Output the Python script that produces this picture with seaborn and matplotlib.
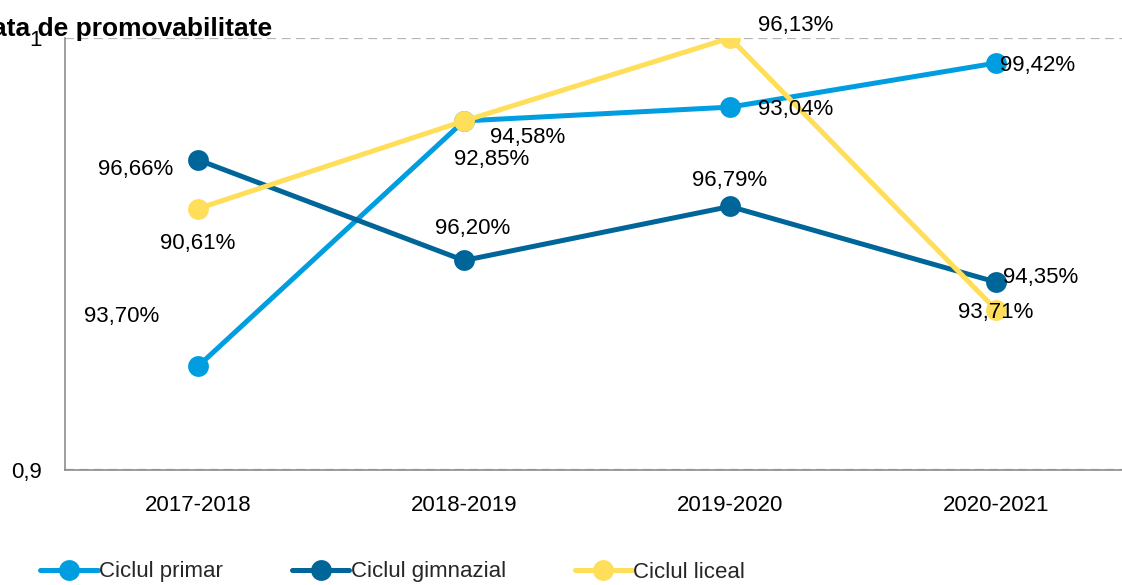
import numpy as np
import pandas as pd
import matplotlib
matplotlib.use("Agg")
import matplotlib.pyplot as plt
import seaborn as sns

# data
years = ["2017-2018", "2018-2019", "2019-2020", "2020-2021"]
series_names = ["Ciclul primar", "Ciclul gimnazial", "Ciclul liceal"]
primar = [0.9240, 0.9808, 0.9840, 0.9942]
gimnazial = [0.9718, 0.9485, 0.9610, 0.9435]
liceal = [0.9605, 0.9808, 1.0000, 0.9371]
primar_labels = ["93,70%", "94,58%", "93,04%", "99,42%"]
gimnazial_labels = ["96,66%", "96,20%", "96,79%", "94,35%"]
liceal_labels = ["90,61%", "92,85%", "96,13%", "93,71%"]
colors = ["#009EE0", "#006699", "#FFDE59"]

sns.set_theme(style="white")
plt.rcParams["font.family"] = ["Liberation Sans", "DejaVu Sans"]

df = pd.DataFrame({
    "an": years * 3,
    "rata": primar + gimnazial + liceal,
    "ciclu": np.repeat(series_names, len(years)),
})
df["x"] = np.tile(np.arange(len(years)), 3)

fig = plt.figure(figsize=(11.22, 5.85), dpi=100)
ax = fig.add_axes([65 / 1122, 1 - 470 / 585, 1064 / 1122, 432 / 585])

sns.lineplot(data=df, x="x", y="rata", hue="ciclu", hue_order=series_names,
             palette=colors, marker="o", markersize=15, markeredgewidth=0,
             linewidth=3.6, sort=False, ax=ax, legend=False)

ax.set_xlim(-0.5, len(years) - 0.5)
ax.set_ylim(0.9, 1.0)
ax.set_xticks(range(len(years)))
ax.set_xticklabels(years)
ax.set_xticks(np.arange(-0.5, len(years), 1.0), minor=True)
ax.tick_params(axis="x", which="major", length=0, pad=18, labelsize=16, labelcolor="black")
ax.tick_params(axis="x", which="minor", length=6, width=1.2, color="#8c8c8c", direction="out")
ax.set_yticks([0.9, 1.0])
ax.set_yticklabels(["0,9", "1"])
ax.tick_params(axis="y", length=0, pad=17, labelsize=16, labelcolor="black")
ax.set_xlabel("")
ax.set_ylabel("")

ax.yaxis.grid(True, linestyle=(0, (4, 2.5)), color="#b5b5b5", linewidth=1.6)
ax.set_axisbelow(True)
for side in ["top", "right"]:
    ax.spines[side].set_visible(False)
for side in ["left", "bottom"]:
    ax.spines[side].set_color("#8c8c8c")
    ax.spines[side].set_linewidth(1.2)
ax.patch.set_alpha(0)

# label offsets (points) around each marker
offsets = {
    "Ciclul primar": [(-55, 36), (46, -12), (47, -2), (30, -2)],
    "Ciclul gimnazial": [(-45, -7), (6, 23), (0, 19), (32, 3)],
    "Ciclul liceal": [(0, -25), (20, -28), (47, 9), (0, -2)],
}
for name, vals, labs in zip(series_names,
                            [primar, gimnazial, liceal],
                            [primar_labels, gimnazial_labels, liceal_labels]):
    for i, (v, lab) in enumerate(zip(vals, labs)):
        ax.annotate(lab, (i, v), xytext=offsets[name][i], textcoords="offset points",
                    ha="center", va="center", fontsize=16, color="black",
                    annotation_clip=False)

fig.text(272 / 1122, 1 - 29 / 585, "Rata de promovabilitate", ha="right", va="center",
         fontsize=19, fontweight="bold", color="black")

fig.legend(handles=ax.lines[:3], labels=series_names, loc="center left",
           bbox_to_anchor=(40 / 1122, 1 - 572 / 585), ncol=3, frameon=False,
           fontsize=16, handlelength=2.6, handletextpad=0.05, columnspacing=3.1,
           borderaxespad=0, borderpad=0)

fig.savefig("out.png", dpi=100, facecolor="white")
